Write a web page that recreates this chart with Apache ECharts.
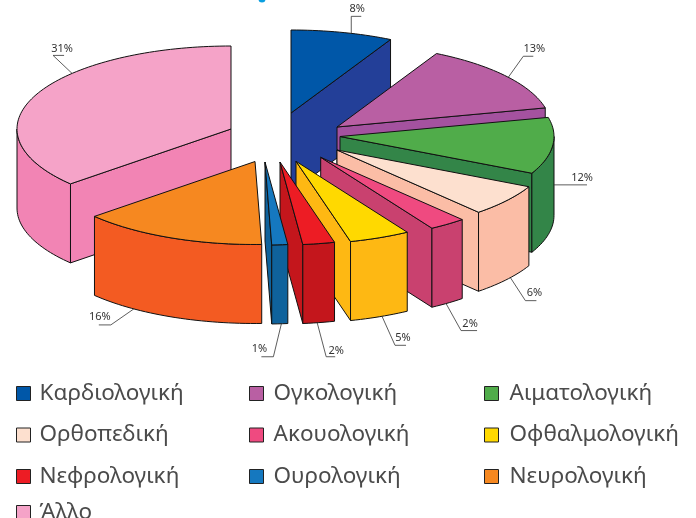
<!DOCTYPE html>
<html><head><meta charset="utf-8">
<style>html,body{margin:0;padding:0;background:#fff}#c{width:696px;height:518px}</style>
<script src="https://cdn.jsdelivr.net/npm/echarts@6/dist/echarts.min.js"></script>
</head><body><div id="c"></div>
<script>
// Data
const categories = ['Καρδιολογική','Ογκολογική','Αιματολογική','Ορθοπεδική','Ακουολογική','Οφθαλμολογική','Νεφρολογική','Ουρολογική','Νευρολογική','Άλλο'];
const printedPercent = [8,13,12,6,2,5,2,1,16,31];
// Slice sizes as actually drawn in the picture (% of the full turn)
const drawnShare = [7.7,13.6,11,6.2,2.8,4.6,2.4,1.2,14,36.5];
// Styles
const topColors = ['#0057a8','#b95fa3','#50ac4a','#fde0cf','#ef4a80','#ffd900','#ed1c24','#1578bf','#f68820','#f5a3c8'];
const sideColors = ['#233f98','#a4529f','#338548','#fbbda6','#c9416f','#feb813','#c4161c','#0f629c','#f35b22','#f284b4'];
// Layout: pie centre, radii, thickness, per-slice explode, per-slice label leader
const CX=263, CY=135, RX=214, RY=83, H=79;
const explodeX = [28,74,77,74,57.7,33,17,2,-8,-32];
const explodeY = [-22,-8,1.5,15,22.3,26.3,27,27,26.5,-6];
const leaderFrac = [.59,.52,.334,.43,.55,.46,.55,.4,.72,.635];
const leaderDrop = [0,0,48.5,79,79,79,79,79,79,0];
const elbowX = [0,15,0,15,15,13,9,-8,-23,-19];
const elbowY = [-17,-21,0,23,27,29,34,33,16,-18];
const tailX = [10,10,33,11,16,11,9,-12,-12,11];
const textX = [-4,1,-5,-2,-7,-3,1,-2,1,-2];
const textY = [-7,-7,-7,-8,-7,-7,-6,-8,-8,-7];
const paintOrder = [9,0,1,2,3,4,5,6,7,8];

const FONT = '"Noto Sans", sans-serif';
const STROKE = '#111';

function point(ax,ay,deg,drop){const r=deg*Math.PI/180;return [ax+RX*Math.sin(r),ay-RY*Math.cos(r)+(drop||0)];}
function arc(ax,ay,a,b,drop){const n=Math.max(2,Math.ceil(Math.abs(b-a)/1.5));const p=[];for(let k=0;k<=n;k++)p.push(point(ax,ay,a+(b-a)*k/n,drop));return p;}
function poly(points,fill){return {type:'polygon',shape:{points},style:{fill,stroke:STROKE,lineWidth:1,lineJoin:'round'}};}

function renderSlice(i){
  let cum=0;for(let k=0;k<i;k++)cum+=drawnShare[k];
  const a=cum*3.6,b=(cum+drawnShare[i])*3.6;
  const ax=CX+explodeX[i],ay=CY+explodeY[i];
  const kids=[];
  const side=(deg)=>{const o=point(ax,ay,deg);kids.push(poly([[ax,ay],o,[o[0],o[1]+H],[ax,ay+H]],sideColors[i]));};
  // cut faces that look toward the viewer
  if(Math.cos((a-90)*Math.PI/180)<0) side(a);
  if(Math.cos((b+90)*Math.PI/180)<0) side(b);
  // outer wall (front half only)
  const s=Math.max(a,90),e=Math.min(b,270);
  if(e>s){kids.push(poly(arc(ax,ay,s,e,0).concat(arc(ax,ay,e,s,H)),sideColors[i]));}
  // top
  kids.push(poly([[ax,ay]].concat(arc(ax,ay,a,b,0)),topColors[i]));
  // leader and printed label
  const p0=point(ax,ay,a+(b-a)*leaderFrac[i],leaderDrop[i]);
  const p1=[p0[0]+elbowX[i],p0[1]+elbowY[i]];
  const p2=[p1[0]+tailX[i],p1[1]];
  kids.push({type:'polyline',shape:{points:[p0,p1,p2]},style:{fill:null,stroke:'#333',lineWidth:.8}});
  kids.push({type:'text',style:{x:p2[0]+textX[i],y:p2[1]+textY[i],text:printedPercent[i]+'%',font:'11px '+FONT,fill:'#333',align:'center',verticalAlign:'middle'}});
  return {type:'group',children:kids};
}

const series = paintOrder.map((i,order)=>({
  type:'custom',name:categories[i],coordinateSystem:'none',z:2+order,
  itemStyle:{color:topColors[i]},
  data:[drawnShare[i]],silent:true,animation:false,
  renderItem:()=>renderSlice(i)
}));

function legendCol(names,left,top,textPad){return {
  data:names,orient:'vertical',left,top,padding:0,itemGap:14.5,itemWidth:14,itemHeight:14,icon:'rect',
  selectedMode:false,
  itemStyle:{borderColor:'#222',borderWidth:1},
  textStyle:{fontFamily:FONT,fontSize:22.5,color:'#4b4b4b',lineHeight:25,padding:[2,0,0,textPad]},
};}
const chart=echarts.init(document.getElementById('c'),null,{renderer:'canvas'});
chart.setOption({
  animation:false,backgroundColor:'#fff',
  legend:[
    legendCol([categories[0],categories[3],categories[6]],16,380,4),
    legendCol([categories[9]],16,499,4),
    legendCol([categories[1],categories[4],categories[7]],249,380,5),
    legendCol([categories[2],categories[5],categories[8]],484,380,6)
  ],
  graphic:[{type:'circle',shape:{cx:262,cy:-1,r:3.5},style:{fill:'#0b9fe0'},silent:true}],
  series
});
</script></body></html>
